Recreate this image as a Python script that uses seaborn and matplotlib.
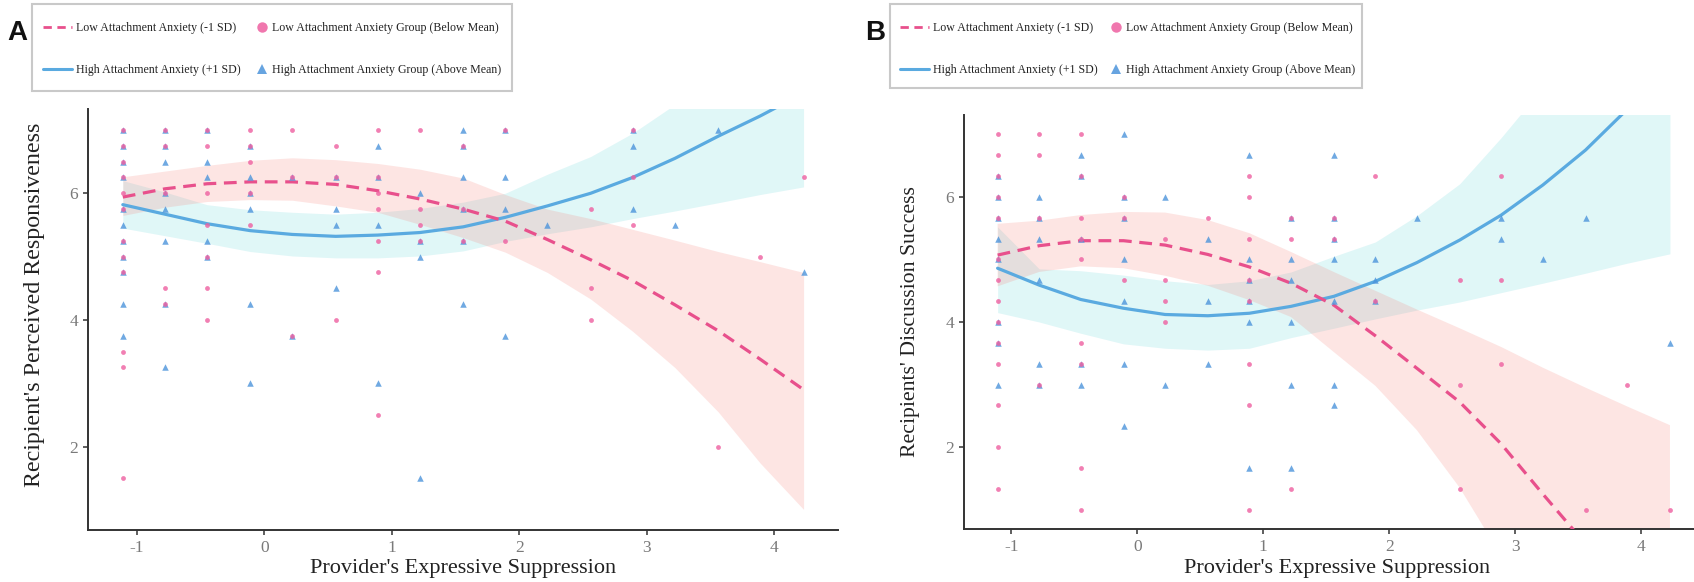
import matplotlib
matplotlib.use("Agg")
import matplotlib.pyplot as plt
import seaborn as sns
from matplotlib.lines import Line2D
from matplotlib.patches import Rectangle

# ---------------- data ----------------
X = [-1.11, -0.78, -0.45, -0.11, 0.22, 0.56, 0.89, 1.22, 1.56, 1.89,
     2.22, 2.56, 2.89, 3.22, 3.56, 3.89, 4.23]

# Panel A fitted curves and confidence bands
A_low_fit = [5.94, 6.07, 6.15, 6.18, 6.18, 6.14, 6.04, 5.91, 5.75, 5.56,
             5.27, 4.95, 4.62, 4.24, 3.83, 3.38, 2.90]
A_low_lo = [5.65, 5.78, 5.87, 5.90, 5.89, 5.80, 5.70, 5.51, 5.30, 5.07,
            4.75, 4.33, 3.82, 3.25, 2.55, 1.74, 1.01]
A_low_hi = [6.26, 6.35, 6.44, 6.52, 6.56, 6.53, 6.47, 6.38, 6.24, 5.98,
            5.75, 5.60, 5.43, 5.26, 5.08, 4.92, 4.75]
A_high_fit = [5.82, 5.67, 5.52, 5.41, 5.35, 5.32, 5.34, 5.38, 5.47, 5.62,
              5.80, 6.00, 6.25, 6.55, 6.90, 7.22, 7.58]
A_high_lo = [5.45, 5.33, 5.21, 5.08, 5.01, 4.98, 4.98, 5.01, 5.09, 5.24,
             5.36, 5.47, 5.60, 5.72, 5.85, 5.98, 6.10]
A_high_hi = [6.20, 6.02, 5.82, 5.74, 5.70, 5.67, 5.70, 5.76, 5.86, 6.00,
             6.30, 6.58, 6.95, 7.40, 7.95, 8.45, 9.05]

# Panel B fitted curves and confidence bands
B_low_fit = [5.07, 5.22, 5.30, 5.30, 5.23, 5.08, 4.88, 4.62, 4.27, 3.78,
             3.26, 2.72, 2.05, 1.25, 0.45, -0.40, -1.30]
B_low_lo = [4.57, 4.80, 4.89, 4.86, 4.74, 4.58, 4.35, 4.08, 3.52, 2.98,
            2.27, 1.35, 0.26, -0.90, -2.10, -3.30, -4.50]
B_low_hi = [5.57, 5.62, 5.71, 5.76, 5.75, 5.63, 5.42, 5.12, 4.80, 4.50,
            4.20, 3.90, 3.60, 3.27, 2.95, 2.65, 2.35]
B_high_fit = [4.86, 4.59, 4.36, 4.22, 4.12, 4.10, 4.14, 4.25, 4.41, 4.65,
              4.95, 5.31, 5.71, 6.19, 6.75, 7.40, 8.10]
B_high_lo = [4.15, 4.00, 3.82, 3.65, 3.58, 3.55, 3.58, 3.75, 3.90, 4.05,
             4.19, 4.32, 4.47, 4.62, 4.78, 4.94, 5.09]
B_high_hi = [5.52, 4.85, 4.82, 4.75, 4.66, 4.60, 4.66, 4.80, 5.05, 5.28,
             5.70, 6.21, 6.95, 7.75, 8.70, 9.80, 11.00]

# Panel A observed points
A_low_x = [-1.11, -0.78, -0.45, -0.11, 0.22, 0.89, 1.22, 1.89, 2.89,
           -1.11, -0.78, -0.45, -0.11, 0.56, 1.56,
           -1.11, -0.11,
           -1.11, 0.22, 0.56, 0.89, 2.89, 4.23,
           -1.11, -0.78, -0.45, -0.11, 0.89,
           -1.11, 0.89, 1.22, 1.56, 2.56,
           -0.45, -0.11, 1.22, 2.89,
           -1.11, 0.89, 1.22, 1.56, 1.89,
           -1.11, -0.45, 3.89,
           -1.11, 0.89,
           -0.78, -0.45, 2.56,
           -0.78,
           -0.45, 0.56, 2.56,
           0.22, -1.11, -1.11, 0.89, 3.56, -1.11]
A_low_y = [7.0] * 9 + [6.75] * 6 + [6.5] * 2 + [6.25] * 6 + [6.0] * 5 + \
          [5.75] * 5 + [5.5] * 4 + [5.25] * 5 + [5.0] * 3 + [4.75] * 2 + \
          [4.5] * 3 + [4.25] + [4.0] * 3 + [3.75, 3.5, 3.25, 2.5, 2.0, 1.5]
A_high_x = [-1.11, -0.78, -0.45, 1.56, 1.89, 2.89, 3.56,
            -1.11, -0.78, -0.11, 0.89, 1.56, 2.89,
            -1.11, -0.78, -0.45,
            -1.11, -0.45, -0.11, 0.22, 0.56, 0.89, 1.56, 1.89,
            -0.78, -0.11, 1.22,
            -1.11, -0.78, -0.11, 0.56, 1.56, 1.89, 2.89,
            -1.11, 0.56, 0.89, 2.22, 3.22,
            -1.11, -0.78, -0.45, 1.22, 1.56,
            -1.11, -0.45, 1.22,
            -1.11, 4.23,
            0.56,
            -1.11, -0.78, -0.11, 1.56,
            -1.11, 0.22, 1.89,
            -0.78,
            -0.11, 0.89,
            1.22]
A_high_y = [7.0] * 7 + [6.75] * 6 + [6.5] * 3 + [6.25] * 8 + [6.0] * 3 + \
           [5.75] * 7 + [5.5] * 5 + [5.25] * 5 + [5.0] * 3 + [4.75] * 2 + \
           [4.5] + [4.25] * 4 + [3.75] * 3 + [3.25] + [3.0] * 2 + [1.5]

# Panel B observed points
B_low_x = [-1.11, -0.78, -0.45,
           -1.11, -0.78,
           -1.11, -0.45, 0.89, 1.89, 2.89,
           -1.11, -0.11, 0.89,
           -1.11, -0.78, -0.45, -0.11, 0.56, 1.22, 1.56,
           -0.45, 0.22, 0.89, 1.22, 1.56,
           -1.11, -0.45,
           -1.11, -0.11, 0.22, 0.89, 2.56, 2.89,
           -1.11, 0.22, 0.89, 1.89,
           -1.11, 0.22,
           -1.11, -0.45,
           -1.11, -0.45, 0.89, 2.89,
           -0.78, 2.56, 3.89,
           -1.11, 0.89,
           -1.11,
           -0.45,
           -1.11, 1.22, 2.56,
           -0.45, 0.89, 3.56, 4.23]
B_low_y = [7.0] * 3 + [6.667] * 2 + [6.333] * 5 + [6.0] * 3 + [5.667] * 7 + \
          [5.333] * 5 + [5.0] * 2 + [4.667] * 6 + [4.333] * 4 + [4.0] * 2 + \
          [3.667] * 2 + [3.333] * 4 + [3.0] * 3 + [2.667] * 2 + [2.0] + \
          [1.667] + [1.333] * 3 + [1.0] * 4
B_high_x = [-0.11,
            -0.45, 0.89, 1.56,
            -1.11, -0.45,
            -1.11, -0.78, -0.11, 0.22,
            -1.11, -0.78, -0.11, 1.22, 1.56, 2.22, 2.89, 3.56,
            -1.11, -0.78, -0.45, 0.56, 1.56, 2.89,
            -1.11, -0.11, 0.89, 1.22, 1.56, 1.89, 3.22,
            -0.78, 0.89, 1.22, 1.89,
            -0.11, 0.56, 0.89, 1.56, 1.89,
            -1.11, 0.89, 1.22,
            -1.11, 4.23,
            -0.78, -0.45, -0.11, 0.56,
            -1.11, -0.78, -0.45, 0.22, 1.22, 1.56,
            1.56,
            -0.11,
            0.89, 1.22]
B_high_y = [7.0] + [6.667] * 3 + [6.333] * 2 + [6.0] * 4 + [5.667] * 8 + \
           [5.333] * 6 + [5.0] * 7 + [4.667] * 4 + [4.333] * 5 + [4.0] * 3 + \
           [3.667] * 2 + [3.333] * 4 + [3.0] * 6 + [2.667] + [2.333] + \
           [1.667] * 2

X_TICKS = [-1, 0, 1, 2, 3, 4]
Y_TICKS = [2, 4, 6]
LEG_LINES = ["Low Attachment Anxiety (-1 SD)", "High Attachment Anxiety (+1 SD)"]
LEG_PTS = ["Low Attachment Anxiety Group (Below Mean)",
           "High Attachment Anxiety Group (Above Mean)"]

# ---------------- style ----------------
sns.set_style("ticks")
plt.rcParams["font.family"] = ["Liberation Serif", "DejaVu Serif"]

PINK_LINE = "#E8508C"
BLUE_LINE = "#5AAAE0"
PINK_PT = "#EE5FA0"
BLUE_PT = "#4C94DB"
PINK_BAND = "#F8766D"
BLUE_BAND = "#00BFC4"
SPINE = "#333333"
TICKLAB = "#7A7A7A"
LABEL = "#222222"
DASH = (0, (4, 2.4))

W, H = 1694, 582
fig = plt.figure(figsize=(W / 100, H / 100), dpi=100)


def fx(px):
    return px / W


def fy(py):
    return 1 - py / H


axA = fig.add_axes([fx(88), fy(530), (838 - 88) / W, (530 - 109) / H])
axB = fig.add_axes([fx(964), fy(529), (1710 - 964) / W, (529 - 115) / H])


def draw(ax, low_fit, low_lo, low_hi, high_fit, high_lo, high_hi,
         lx, ly, hx, hy, xlim, ylim, ylabel, ylabel_fs):
    ax.fill_between(X, high_lo, high_hi, color=BLUE_BAND, alpha=0.12,
                    linewidth=0, zorder=1)
    ax.fill_between(X, low_lo, low_hi, color=PINK_BAND, alpha=0.19,
                    linewidth=0, zorder=1.1)
    sns.scatterplot(x=hx, y=hy, marker="^", s=22, color=BLUE_PT, alpha=0.8,
                    linewidth=0, ax=ax, zorder=3)
    sns.scatterplot(x=lx, y=ly, marker="o", s=12, color=PINK_PT, alpha=0.8,
                    linewidth=0, ax=ax, zorder=3.1)
    sns.lineplot(x=X, y=high_fit, color=BLUE_LINE, lw=2.3, ax=ax, zorder=2.5)
    sns.lineplot(x=X, y=low_fit, color=PINK_LINE, lw=2.3, ax=ax, zorder=2.6)
    ax.lines[-1].set_linestyle(DASH)
    ax.set_xlim(*xlim)
    ax.set_ylim(*ylim)
    ax.set_xticks(X_TICKS)
    ax.set_yticks(Y_TICKS)
    ax.set_xticklabels([str(t) for t in X_TICKS])
    ax.set_yticklabels([str(t) for t in Y_TICKS])
    for s in ["top", "right"]:
        ax.spines[s].set_visible(False)
    for s in ["left", "bottom"]:
        ax.spines[s].set_color(SPINE)
        ax.spines[s].set_linewidth(1.4)
    ax.tick_params(direction="out", length=3.6, width=1.1, color=SPINE,
                   labelcolor=TICKLAB, labelsize=12.5, pad=3.5)
    ax.set_xlabel("Provider's Expressive Suppression", fontsize=16, color=LABEL)
    ax.set_ylabel(ylabel, fontsize=ylabel_fs, color=LABEL)
    ax.set_facecolor("white")


draw(axA, A_low_fit, A_low_lo, A_low_hi, A_high_fit, A_high_lo, A_high_hi,
     A_low_x, A_low_y, A_high_x, A_high_y, (-1.383, 4.50), (0.685, 7.33),
     "Recipient's Perceived Responsiveness", 17.3)
draw(axB, B_low_fit, B_low_lo, B_low_hi, B_high_fit, B_high_lo, B_high_hi,
     B_low_x, B_low_y, B_high_x, B_high_y, (-1.377, 4.548), (0.69, 7.31),
     "Recipients' Discussion Success", 15.7)
axA.xaxis.set_label_coords(0.5, -0.068)
axA.yaxis.set_label_coords(-0.057, (530 - 305) / (530 - 109))
axB.xaxis.set_label_coords((1337 - 964) / (1710 - 964), -0.072)
axB.yaxis.set_label_coords((920 - 964) / (1710 - 964), 0.5)

# ---------------- legends ----------------
LEG_FS = 8.6


def legend_block(box, line_left, text_top, marker_x):
    x0, y0, x1, y1 = box
    fig.patches.append(Rectangle((fx(x0), fy(y1)), (x1 - x0) / W, (y1 - y0) / H,
                                 transform=fig.transFigure, fill=False,
                                 edgecolor="#C9C9C9", linewidth=1.5))
    h_lines = [Line2D([], [], color=PINK_LINE, lw=2.0, linestyle=(0, (3, 2))),
               Line2D([], [], color=BLUE_LINE, lw=2.2)]
    h_pts = [Line2D([], [], color=PINK_PT, marker="o", markersize=7.5,
                    linestyle="none", markeredgewidth=0, alpha=0.85),
             Line2D([], [], color=BLUE_PT, marker="^", markersize=7.5,
                    linestyle="none", markeredgewidth=0, alpha=0.85)]
    kw = dict(frameon=False, fontsize=LEG_FS, borderpad=0, borderaxespad=0,
              labelspacing=2.45, loc="upper left")
    l1 = fig.legend(handles=h_lines, labels=LEG_LINES,
                    bbox_to_anchor=(fx(line_left), fy(text_top)),
                    handlelength=2.4, handletextpad=0.35, **kw)
    l2 = fig.legend(handles=h_pts, labels=LEG_PTS,
                    bbox_to_anchor=(fx(marker_x - 5), fy(text_top)),
                    handlelength=0.8, handletextpad=0.45, **kw)
    for lg in (l1, l2):
        for t in lg.get_texts():
            t.set_color("#222222")


legend_block((32, 4, 512, 91), 43, 22.5, 262)
legend_block((890, 4, 1362, 88), 900, 22.5, 1116)

fig.text(fx(7), fy(40), "A", fontsize=20, fontweight="bold",
         family="Liberation Sans", va="baseline", ha="left", color="#111111")
fig.text(fx(865), fy(40), "B", fontsize=20, fontweight="bold",
         family="Liberation Sans", va="baseline", ha="left", color="#111111")

fig.savefig("out.png", dpi=100, facecolor="white")
